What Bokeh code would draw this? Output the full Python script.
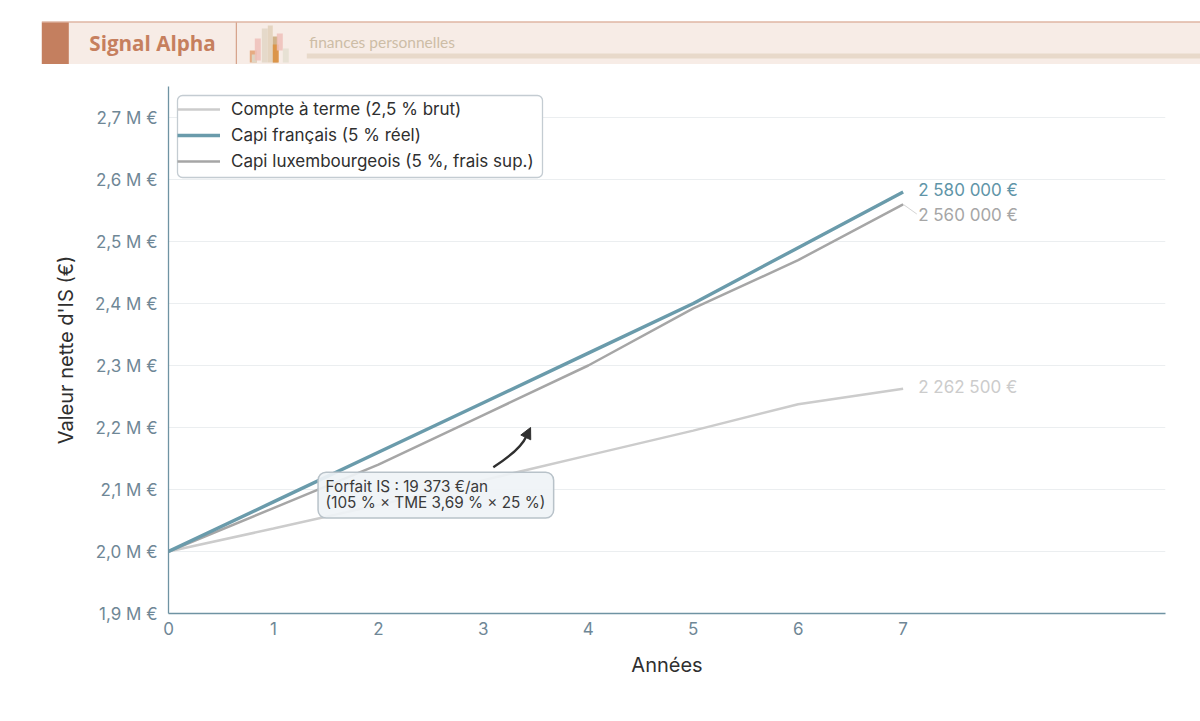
from bokeh.embed import file_html
from bokeh.resources import INLINE
from bokeh.plotting import figure
from bokeh.layouts import column
from bokeh.models import (ColumnDataSource, Legend, LegendItem, BoxAnnotation, Label, FixedTicker,
                          Arrow, NormalHead, Range1d)
from bokeh.core.properties import value

# ---------- data ----------
years = [0, 1, 2, 3, 4, 5, 6, 7]
compte = [2.0, 2.037, 2.075, 2.115, 2.155, 2.195, 2.2375, 2.2625]
capi_fr = [2.0, 2.08, 2.16, 2.24, 2.32, 2.40, 2.49, 2.58]
capi_lux = [2.0, 2.07, 2.14, 2.22, 2.30, 2.392, 2.47, 2.56]
y_ticks = [1.9, 2.0, 2.1, 2.2, 2.3, 2.4, 2.5, 2.6, 2.7]
y_tick_labels = ["1,9 M €", "2,0 M €", "2,1 M €", "2,2 M €", "2,3 M €", "2,4 M €", "2,5 M €", "2,6 M €", "2,7 M €"]
end_labels = ["2 262 500 €", "2 580 000 €", "2 560 000 €"]
legend_labels = ["Compte à terme (2,5 % brut)", "Capi français (5 % réel)", "Capi luxembourgeois (5 %, frais sup.)"]
note_lines = ["Forfait IS : 19 373 €/an", "(105 % × TME 3,69 % × 25 %)"]

FONT = "Inter"
W = 1200
HEAD = 64

# ---------- header banner ----------
h = figure(width=W, height=HEAD, x_range=Range1d(0.7, W + 0.7), y_range=Range1d(HEAD, 0),
           toolbar_location=None, output_backend="svg", min_border=0, outline_line_color=None)
h.frame_align = False
h.axis.visible = False
h.grid.visible = False
h.quad(left=[42], right=[1202], top=[22], bottom=[64], fill_color="#f7ece6", line_color=None)
h.quad(left=[42], right=[1202], top=[21], bottom=[22], fill_color="#cf9277", line_color=None)
h.quad(left=[42], right=[69], top=[22], bottom=[64], fill_color="#c47f5f", line_color=None)
h.quad(left=[236], right=[237], top=[22], bottom=[64], fill_color="#cf9277", line_color=None)
h.quad(left=[307], right=[1202], top=[53], bottom=[58], fill_color="#e8d9ca", line_color=None)
h.quad(left=[250, 252, 255, 262, 268, 273, 273, 277, 283],
       right=[257, 257, 261, 268, 273, 278, 279, 283, 289],
       top=[50, 54, 38, 28, 25, 36, 44, 33, 48],
       bottom=[62, 62, 60, 62, 62, 62, 62, 50, 62],
       fill_color=["#e3a070", "#dcdccf", "#eec0b8", "#e2d6c4", "#e0d0b8", "#c9a878", "#dd8f3e", "#eec0b8", "#e4dfd0"],
       fill_alpha=0.85, line_color=None)
h.add_layout(Label(x=89.5, y=42, text="Signal Alpha", text_font="Open Sans", text_font_style="bold",
                   text_font_size="20.6px", text_color="#c67f5e", text_baseline="middle"))
h.add_layout(Label(x=309.5, y=41.5, text="finances personnelles", text_font="Lato",
                   text_font_size="15.5px", text_color="#cdbda6", text_baseline="middle"))

# ---------- chart ----------
p = figure(width=W, height=700 - HEAD, x_range=Range1d(0, 9.5), y_range=Range1d(1.9, 2.75),
           toolbar_location=None, output_backend="svg", min_border_left=168, min_border_right=35,
           min_border_top=86 - HEAD, min_border_bottom=87, outline_line_color=None,
           x_axis_label="Années", y_axis_label="Valeur nette d'IS (€)")
p.frame_align = False
p.xgrid.visible = False
p.ygrid.grid_line_color = "#ebeef0"
p.ygrid.ticker = FixedTicker(ticks=y_ticks)
p.xaxis.ticker = FixedTicker(ticks=years)
p.yaxis.ticker = FixedTicker(ticks=y_ticks)
p.yaxis.major_label_overrides = dict(zip(y_ticks, y_tick_labels))
for ax in (p.xaxis[0], p.yaxis[0]):
    ax.axis_line_color = "#6f93a3"
    ax.axis_line_width = 1.3
    ax.major_tick_line_color = None
    ax.minor_tick_line_color = None
    ax.major_label_text_font = FONT
    ax.major_label_text_font_size = "17px"
    ax.major_label_text_color = "#6f8796"
    ax.axis_label_text_font = FONT
    ax.axis_label_text_font_size = "20px"
    ax.axis_label_text_font_style = "normal"
    ax.axis_label_text_color = "#2f2f2f"
p.yaxis[0].major_label_standoff = 5
p.xaxis[0].major_label_standoff = 2
p.yaxis[0].axis_label_standoff = 14
p.xaxis[0].axis_label_standoff = 15

src = ColumnDataSource(dict(x=years, compte=compte, fr=capi_fr, lux=capi_lux))
r1 = p.line("x", "compte", source=src, line_color="#cccccc", line_width=2.5)
r3 = p.line("x", "lux", source=src, line_color="#a6a6a6", line_width=2.5)
r2 = p.line("x", "fr", source=src, line_color="#6a9bab", line_width=3.4)

# connector from the luxembourg end point to its shifted label
p.line([years[-1], 7.13], [capi_lux[-1], 2.5444], line_color="#d5d5d5", line_width=1)

p.text(x=[years[-1]] * 3, y=[compte[-1], capi_fr[-1], 2.5396], text=end_labels,
       text_color=["#cccccc", "#5f95a8", "#a6a6a6"], text_font=value(FONT), text_font_size="17px",
       text_baseline="middle", x_offset=15, y_offset=-2)

# rounded legend frame, drawn under a transparent legend (pixel box relative to this figure)
p.add_layout(BoxAnnotation(left=177, right=542, top=95 - HEAD, bottom=177 - HEAD, left_units="canvas", right_units="canvas",
                           top_units="canvas", bottom_units="canvas", fill_color="#ffffff", fill_alpha=1,
                           line_color="#c4ccd2", line_alpha=1, line_width=1.3, border_radius=5, level="annotation"))
legend = Legend(items=[LegendItem(label=legend_labels[0], renderers=[r1]),
                       LegendItem(label=legend_labels[1], renderers=[r2]),
                       LegendItem(label=legend_labels[2], renderers=[r3])],
                location=(9, 442), margin=0, padding=1, spacing=6, label_height=20,
                glyph_width=43, glyph_height=20, label_standoff=11,
                label_text_font=FONT, label_text_font_size="17px", label_text_color="#2f2f2f",
                border_line_color=None, background_fill_alpha=0)
p.add_layout(legend, "center")

# annotation box and arrow
p.add_layout(BoxAnnotation(left=1.425, right=3.67, bottom=2.054, top=2.128, fill_color="#eff3f6", fill_alpha=0.92,
                           line_color="#b8c2c9", line_alpha=1, line_width=1.5, border_radius=8, level="annotation"))
p.add_layout(Label(x=1.43, y=2.1045, x_offset=7, text=note_lines[0], text_font=FONT, text_font_size="15.3px",
                   text_color="#3a3a3a", text_baseline="middle"))
p.add_layout(Label(x=1.43, y=2.079, x_offset=7, text=note_lines[1], text_font=FONT, text_font_size="15.3px",
                   text_color="#3a3a3a", text_baseline="middle"))
p.bezier(x0=[3.095], y0=[2.136], x1=[3.41], y1=[2.186], cx0=[3.27], cy0=[2.155], cx1=[3.37], cy1=[2.17],
         line_color="#2f2f2f", line_width=2.4)
p.add_layout(Arrow(end=NormalHead(size=11, fill_color="#2f2f2f", line_color="#2f2f2f"),
                   x_start=3.41, y_start=2.186, x_end=3.45, y_end=2.2, line_color="#2f2f2f", line_width=2))

open("out.html", "w").write(file_html(column(h, p, spacing=0), INLINE))
